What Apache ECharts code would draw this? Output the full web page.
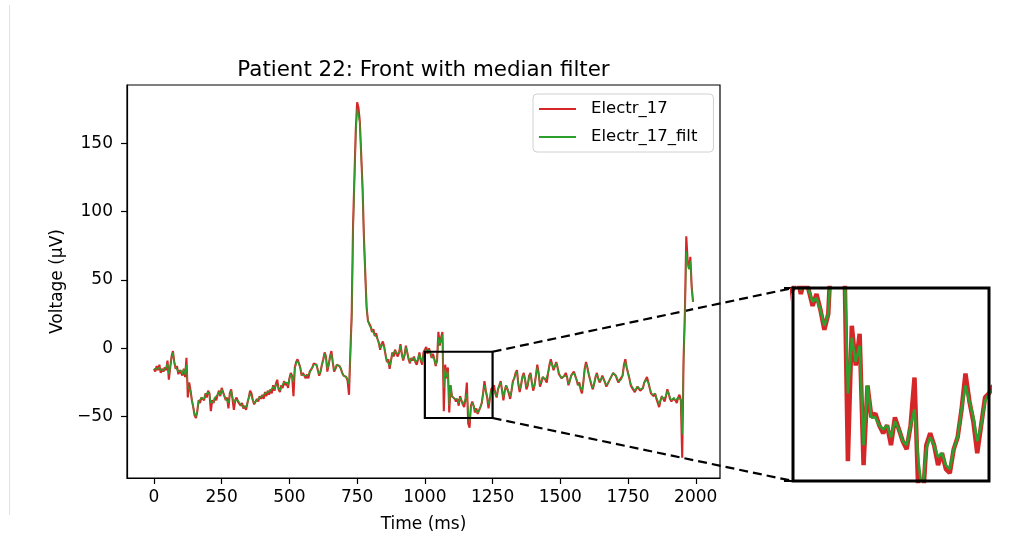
<!DOCTYPE html>
<html>
<head>
<meta charset="utf-8">
<title>Patient 22: Front with median filter</title>
<script src="https://cdn.jsdelivr.net/npm/echarts@6.0.0/dist/echarts.min.js"></script>
<style>
  html, body { margin: 0; padding: 0; background: #fff; }
  #chart { width: 1015px; height: 545px; }
</style>
</head>
<body>
<div id="chart"></div>
<script>
// samples every 5 ms, starting at 0 ms
var stepMs = 5;

// Electr_17 (raw), one row = 100 ms
var electr17 = [
  -15,-17,-13,-16,-12,-18,-15,-17,-14,-16,-9,-23,-14,-6,-2,-10,-15,-13,-19,-16,
  -15,-20,-15,-21,-7,-36,-25,-31,-38,-43,-49,-51,-46,-38,-40,-36,-35,-38,-33,-36,
  -31,-33,-46,-38,-40,-36,-38,-34,-31,-35,-29,-30,-35,-38,-36,-44,-33,-30,-37,-45,
  -38,-36,-39,-38,-42,-40,-44,-42,-45,-40,-36,-31,-33,-38,-41,-42,-37,-39,-35,-37,
  -34,-37,-32,-35,-31,-34,-30,-33,-27,-31,-26,-23,-30,-32,-27,-29,-24,-27,-25,-29,
  -22,-18,-20,-35,-14,-10,-8,-7,-14,-20,-18,-20,-22,-19,-22,-17,-18,-14,-11,-10,
  -12,-16,-20,-17,-12,-8,-3,-6,-17,-12,-6,-2,-10,-17,-15,-12,-11,-13,-15,-18,
  -20,-19,-21,-24,-34,-3,25,90,125,160,180,176,166,142,118,82,55,30,20,18,
  16,12,14,9,11,7,4,-1,3,5,1,-5,-10,-8,-15,-9,-3,-6,-1,-4,
  -6,-3,3,-4,-9,-5,2,-3,-8,-11,-7,-9,-6,-10,-12,-8,-3,-9,-12,-3,
  -3,1,-4,0,-3,-7,-4,-8,-13,-9,12,2,8,12,-46,-12,-22,-14,-47,-27,
  -35,-34,-37,-39,-37,-42,-35,-38,-41,-43,-37,-25,-55,-58,-42,-39,-42,-47,-44,-48,
  -49,-43,-40,-33,-24,-31,-36,-44,-37,-30,-29,-27,-33,-36,-30,-27,-24,-31,-38,-31,
  -27,-28,-33,-37,-31,-24,-22,-18,-16,-26,-32,-27,-21,-18,-23,-30,-27,-20,-18,-25,
  -31,-27,-20,-12,-18,-28,-25,-21,-20,-23,-25,-18,-12,-8,-12,-16,-13,-10,-14,-19,
  -20,-22,-23,-20,-18,-21,-27,-24,-20,-19,-17,-18,-23,-27,-25,-30,-33,-25,-15,-10,
  -14,-19,-23,-27,-30,-26,-21,-18,-22,-25,-23,-20,-21,-25,-28,-26,-24,-22,-20,-18,
  -17,-20,-23,-25,-23,-24,-20,-12,-8,-14,-18,-22,-27,-29,-30,-32,-30,-28,-29,-31,
  -32,-29,-25,-23,-21,-25,-29,-33,-34,-35,-33,-37,-38,-43,-38,-35,-37,-39,-35,-30,
  -33,-37,-39,-37,-36,-38,-40,-36,-34,-38,-80,-8,27,82,64,58,67,45,34
];

// Electr_17_filt (median filtered)
var electr17Filt = [
  -15,-16,-15,-15,-14,-16,-16,-16,-15,-14,-11,-19,-14,-7,-3,-10,-14,-14,-17,-16,
  -16,-19,-15,-19,-12,-28,-27,-31,-38,-43,-48,-50,-46,-39,-39,-36,-35,-37,-34,-35,
  -32,-34,-40,-39,-39,-36,-37,-34,-32,-34,-30,-31,-35,-37,-37,-40,-34,-31,-36,-40,
  -38,-37,-38,-38,-41,-40,-43,-42,-43,-40,-36,-33,-34,-38,-40,-41,-38,-38,-36,-36,
  -35,-35,-33,-34,-32,-33,-31,-32,-28,-30,-26,-25,-29,-31,-28,-28,-25,-26,-25,-27,
  -22,-19,-21,-25,-15,-11,-9,-8,-14,-19,-19,-20,-21,-20,-21,-18,-17,-14,-12,-11,
  -12,-16,-19,-17,-12,-9,-4,-7,-15,-12,-7,-4,-10,-16,-15,-12,-12,-13,-15,-18,
  -20,-19,-21,-23,-26,-5,22,85,122,155,175,174,165,140,116,80,53,30,20,17,
  15,13,13,10,10,7,4,0,3,4,1,-4,-9,-9,-13,-9,-4,-5,-2,-4,
  -5,-3,2,-4,-8,-5,1,-3,-7,-10,-8,-9,-7,-10,-11,-8,-4,-8,-10,-4,
  -3,-1,-3,-1,-3,-6,-5,-8,-12,-9,8,3,7,10,-29,-15,-21,-17,-42,-27,
  -35,-35,-37,-38,-37,-40,-36,-38,-41,-42,-37,-33,-46,-54,-43,-40,-42,-45,-44,-47,
  -48,-43,-40,-33,-27,-31,-35,-41,-37,-31,-29,-28,-33,-35,-30,-27,-25,-30,-36,-31,
  -27,-28,-32,-35,-31,-25,-22,-19,-17,-25,-30,-27,-22,-19,-23,-28,-26,-21,-19,-25,
  -29,-27,-20,-14,-19,-26,-25,-21,-20,-23,-24,-18,-13,-10,-12,-15,-13,-11,-14,-18,
  -20,-22,-22,-20,-19,-21,-26,-24,-20,-19,-18,-18,-23,-26,-25,-29,-31,-25,-16,-12,
  -14,-19,-23,-26,-29,-26,-21,-19,-22,-24,-23,-21,-21,-25,-27,-26,-24,-22,-20,-18,
  -18,-20,-22,-24,-23,-23,-20,-13,-10,-14,-18,-22,-26,-28,-29,-31,-30,-28,-29,-30,
  -31,-29,-25,-23,-22,-25,-29,-32,-34,-34,-33,-36,-37,-41,-38,-35,-37,-38,-35,-31,
  -33,-36,-38,-37,-36,-38,-39,-36,-35,-38,-63,-10,22,71,62,58,64,45,34
];

var xTicks = [0, 250, 500, 750, 1000, 1250, 1500, 1750, 2000];
var yTicks = [-50, 0, 50, 100, 150];
var xRange = [-99.5, 2089.5];
var yRange = [-94.9, 192.7];

// zoomed region shown in the inset
var zoomX = [1000, 1250];
var zoomY = [-51, -2.5];

var RED = '#d62728';
var GREEN = '#2ca02c';
var FONT = 'DejaVu Sans';

function pairs(values) {
  var out = [];
  for (var i = 0; i < values.length; i++) out.push([i * stepMs, values[i]]);
  return out;
}

function tickText(v) {
  return String(v).replace('-', '\u2212');
}

var rawData = pairs(electr17);
var filtData = pairs(electr17Filt);

var chart = echarts.init(document.getElementById('chart'), null, { renderer: 'canvas' });

var option = {
  animation: false,
  backgroundColor: '#fff',
  title: {
    text: 'Patient 22: Front with median filter',
    left: 418.5,
    top: 55,
    textAlign: 'center',
    textStyle: { fontFamily: FONT, fontSize: 21.4, fontWeight: 'normal', color: '#000' }
  },
  legend: {
    data: ['Electr_17', 'Electr_17_filt'],
    orient: 'vertical',
    left: 533,
    top: 94,
    itemWidth: 37,
    itemHeight: 14,
    itemGap: 8,
    padding: [5, 16, 5, 5],
    borderColor: '#d0d0d0',
    borderWidth: 1,
    borderRadius: 4,
    backgroundColor: 'rgba(255,255,255,0.8)',
    itemStyle: { opacity: 0 },
    textStyle: { fontFamily: FONT, fontSize: 16.5, color: '#000', padding: [0, 0, 0, 10], lineHeight: 20 }
  },
  grid: [
    { left: 127, top: 85, width: 593, height: 393, show: true, borderColor: '#000', borderWidth: 1.2, containLabel: false },
    { left: 793, top: 288, width: 196, height: 193, show: false, containLabel: false }
  ],
  xAxis: [
    {
      type: 'value', gridIndex: 0, min: xRange[0], max: xRange[1],
      name: 'Time (ms)', nameLocation: 'middle', nameGap: 38,
      nameTextStyle: { fontFamily: FONT, fontSize: 17, color: '#000' },
      axisLine: { show: true, onZero: false, lineStyle: { color: '#000', width: 1.2 } },
      axisTick: { show: true, length: 6, customValues: xTicks, lineStyle: { color: '#000', width: 1.2 } },
      axisLabel: { customValues: xTicks, formatter: tickText, margin: 11, fontFamily: FONT, fontSize: 17, color: '#000' },
      splitLine: { show: false }
    },
    {
      type: 'value', gridIndex: 1, min: zoomX[0], max: zoomX[1],
      axisLine: { show: false }, axisTick: { show: false }, axisLabel: { show: false }, splitLine: { show: false }
    }
  ],
  yAxis: [
    {
      type: 'value', gridIndex: 0, min: yRange[0], max: yRange[1],
      name: 'Voltage (µV)', nameLocation: 'middle', nameGap: 55,
      nameTextStyle: { fontFamily: FONT, fontSize: 17, color: '#000' },
      axisLine: { show: true, onZero: false, lineStyle: { color: '#000', width: 1.2 } },
      axisTick: { show: true, length: 6, customValues: yTicks, lineStyle: { color: '#000', width: 1.2 } },
      axisLabel: { customValues: yTicks, formatter: tickText, margin: 14, fontFamily: FONT, fontSize: 17, color: '#000' },
      splitLine: { show: false }
    },
    {
      type: 'value', gridIndex: 1, min: zoomY[0], max: zoomY[1],
      axisLine: { show: false },
      axisTick: { show: true, length: 9, customValues: zoomY, lineStyle: { color: '#000', width: 2 } },
      axisLabel: { show: false }, splitLine: { show: false }
    }
  ],
  series: [
    {
      name: 'Electr_17', type: 'line', xAxisIndex: 0, yAxisIndex: 0, data: rawData,
      symbol: 'none', sampling: false, clip: true,
      lineStyle: { color: RED, width: 2.1 }, itemStyle: { color: RED }, z: 3
    },
    {
      name: 'Electr_17_filt', type: 'line', xAxisIndex: 0, yAxisIndex: 0, data: filtData,
      symbol: 'none', sampling: false, clip: true,
      lineStyle: { color: GREEN, width: 1.3 }, itemStyle: { color: GREEN }, z: 4
    },
    {
      name: 'Electr_17', type: 'line', xAxisIndex: 1, yAxisIndex: 1, data: rawData,
      symbol: 'none', clip: true,
      lineStyle: { color: RED, width: 4.5 }, itemStyle: { color: RED }, z: 3
    },
    {
      name: 'Electr_17_filt', type: 'line', xAxisIndex: 1, yAxisIndex: 1, data: filtData,
      symbol: 'none', clip: true,
      lineStyle: { color: GREEN, width: 2.6 }, itemStyle: { color: GREEN }, z: 4
    }
  ]
};

chart.setOption(option);

// zoom box, inset frame and the dashed connectors
function px(g, x, y) { return chart.convertToPixel({ gridIndex: g }, [x, y]); }
var boxTL = px(0, zoomX[0], zoomY[1]);
var boxBR = px(0, zoomX[1], zoomY[0]);
var insTL = px(1, zoomX[0], zoomY[1]);
var insBR = px(1, zoomX[1], zoomY[0]);

chart.setOption({
  graphic: [
    { type: 'line', z: 0, shape: { x1: 9.5, y1: 5, x2: 9.5, y2: 515 }, style: { stroke: '#e2e2e2', lineWidth: 1 } },
    {
      type: 'line', z: 1,
      shape: { x1: boxBR[0], y1: boxTL[1], x2: insTL[0], y2: insTL[1] },
      style: { stroke: '#000', lineWidth: 2.2, lineDash: [9, 5] }
    },
    {
      type: 'line', z: 1,
      shape: { x1: boxBR[0], y1: boxBR[1], x2: insTL[0], y2: insBR[1] },
      style: { stroke: '#000', lineWidth: 2.2, lineDash: [9, 5] }
    },
    {
      type: 'rect', z: 100,
      shape: { x: boxTL[0], y: boxTL[1], width: boxBR[0] - boxTL[0], height: boxBR[1] - boxTL[1] },
      style: { fill: null, stroke: '#000', lineWidth: 2.2 }
    },
    {
      type: 'rect', z: 100,
      shape: { x: insTL[0], y: insTL[1], width: insBR[0] - insTL[0], height: insBR[1] - insTL[1] },
      style: { fill: null, stroke: '#000', lineWidth: 3 }
    }
  ]
});
</script>
</body>
</html>
